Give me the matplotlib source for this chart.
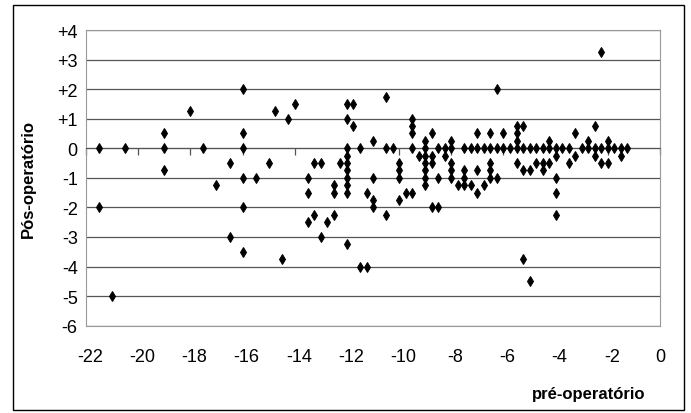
import matplotlib
matplotlib.use("Agg")
import matplotlib.pyplot as plt
from matplotlib.patches import Rectangle
from matplotlib.transforms import ScaledTranslation

plt.rcParams['font.family'] = ['Liberation Sans', 'DejaVu Sans']
plt.rcParams['axes.unicode_minus'] = False

# pre-operative values (x) and post-operative values (y), same order
pre = [
    -21.5, -21.5, -21, -20.5, -19, -19, -19, -18, -17.5, -17,
    -16.5, -16.5, -16, -16, -16, -16, -16, -16, -15.5, -15,
    -14.75, -14.5, -14.25, -14, -13.5, -13.5, -13.5, -13.25, -13.25, -13, -13, -12.75,
    -12.5, -12.5, -12.5, -12.25, -12, -12, -12, -12, -12, -12, -12, -12, -12, -12,
    -11.75, -11.75, -11.5, -11.5, -11.25, -11.25, -11, -11, -11, -11,
    -10.5, -10.5, -10.5, -10.25, -10, -10, -10, -10, -9.75,
    -9.5, -9.5, -9.5, -9.5, -9.5, -9.25, -9, -9, -9, -9, -9, -9, -9,
    -8.75, -8.75, -8.75, -8.75, -8.5, -8.5, -8.5, -8.25, -8.25, -8, -8, -8, -8, -8,
    -7.75, -7.5, -7.5, -7.5, -7.5, -7.25, -7.25, -7, -7, -7, -7,
    -6.75, -6.75, -6.5, -6.5, -6.5, -6.5, -6.5, -6.25, -6.25, -6.25, -6, -6, -5.75,
    -5.5, -5.5, -5.5, -5.5, -5.5, -5.25, -5.25, -5.25, -5.25, -5, -5, -5,
    -4.75, -4.75, -4.5, -4.5, -4.5, -4.25, -4.25, -4.25, -4, -4, -4, -4, -4,
    -3.75, -3.5, -3.5, -3.25, -3.25, -3, -2.75, -2.75, -2.5, -2.5, -2.5,
    -2.25, -2.25, -2.25, -2, -2, -2, -1.75, -1.5, -1.5, -1.25,
]
pos = [
    0, -2, -5, 0, 0.5, 0, -0.75, 1.25, 0, -1.25,
    -0.5, -3, 2, 0.5, 0, -1, -2, -3.5, -1, -0.5,
    1.25, -3.75, 1, 1.5, -1, -1.5, -2.5, -0.5, -2.25, -0.5, -3, -2.5,
    -1.25, -1.5, -2.25, -0.5, 1.5, 1, 0, -0.25, -0.5, -0.75, -1, -1.25, -1.5, -3.25,
    1.5, 0.75, 0, -4, -1.5, -4, 0.25, -1, -1.75, -2,
    1.75, 0, -2.25, 0, -0.5, -0.75, -1, -1.75, -1.5,
    1, 0.75, 0.5, 0, -1.5, -0.25, 0.25, 0, -0.25, -0.5, -0.75, -1, -1.25,
    0.5, -0.25, -0.5, -2, 0, -1, -2, 0, -0.25, 0.25, 0, -0.5, -0.75, -1,
    -1.25, 0, -0.75, -1, -1.25, 0, -1.25, 0.5, 0, -0.75, -1.5,
    0, -1.25, 0.5, 0, -0.5, -0.75, -1, 2, 0, -1, 0.5, 0, 0,
    0.75, 0.5, 0.25, 0, -0.5, 0.75, 0, -0.75, -3.75, 0, -0.75, -4.5,
    0, -0.5, 0, -0.5, -0.75, 0.25, 0, -0.5, 0, -0.25, -1, -1.5, -2.25,
    0, 0, -0.5, 0.5, -0.25, 0, 0.25, 0, 0.75, 0, -0.25,
    3.25, 0, -0.5, 0.25, 0, -0.5, 0, 0, -0.25, 0,
]

xticks = list(range(-22, 1, 2))
xlabels = [str(v) for v in xticks]
yticks = list(range(-6, 5))
ylabels = [('+' + str(v)) if v > 0 else str(v) for v in yticks]

fig = plt.figure(figsize=(6.91, 4.14), dpi=100)
ax = fig.add_axes([0.1245, 0.2109, 0.8307, 0.7142])

ax.plot(pre, pos, linestyle='None', marker='d', markersize=4.8,
        color='black', markeredgewidth=0.7, zorder=3, clip_on=False)

ax.set_xlim(-22, 0)
ax.set_ylim(-6, 4)

# horizontal gridlines
ax.set_yticks(yticks)
ax.set_yticklabels(ylabels)
ax.grid(axis='y', color='#555555', linewidth=0.9)
ax.grid(axis='x', visible=False)
ax.tick_params(axis='y', length=0, pad=6, labelsize=13)

# x axis crosses at y = 0, labels sit at the bottom
ax.spines['bottom'].set_position(('data', 0))
ax.spines['bottom'].set_color('#555555')
ax.set_xticks(xticks)
ax.tick_params(axis='x', direction='out', length=5, width=0.9,
               color='#555555', labelbottom=False)
for side in ['top', 'right', 'left']:
    ax.spines[side].set_color('#999999')

sec = ax.secondary_xaxis('bottom')
sec.set_xticks(xticks)
sec.set_xticklabels(xlabels)
sec.tick_params(length=0, pad=16, labelsize=13)
sec.spines['bottom'].set_color('#999999')
for lbl in sec.get_xticklabels():
    if lbl.get_text().startswith('-'):
        lbl.set_transform(lbl.get_transform() + ScaledTranslation(0.04, 0, fig.dpi_scale_trans))

ax.set_ylabel('Pós-operatório', fontsize=12, fontweight='bold')
ax.yaxis.set_label_coords(-0.087, 0.5)
fig.text(645 / 691, 1 - 395 / 414, 'pré-operatório', ha='right', va='center',
         fontsize=12, fontweight='bold')

# outer border of the chart
fig.patches.append(Rectangle((13 / 691, 3 / 414), 671 / 691, 405 / 414,
                             transform=fig.transFigure, fill=False,
                             edgecolor='black', linewidth=1.0))

fig.savefig('out.png', dpi=100)
